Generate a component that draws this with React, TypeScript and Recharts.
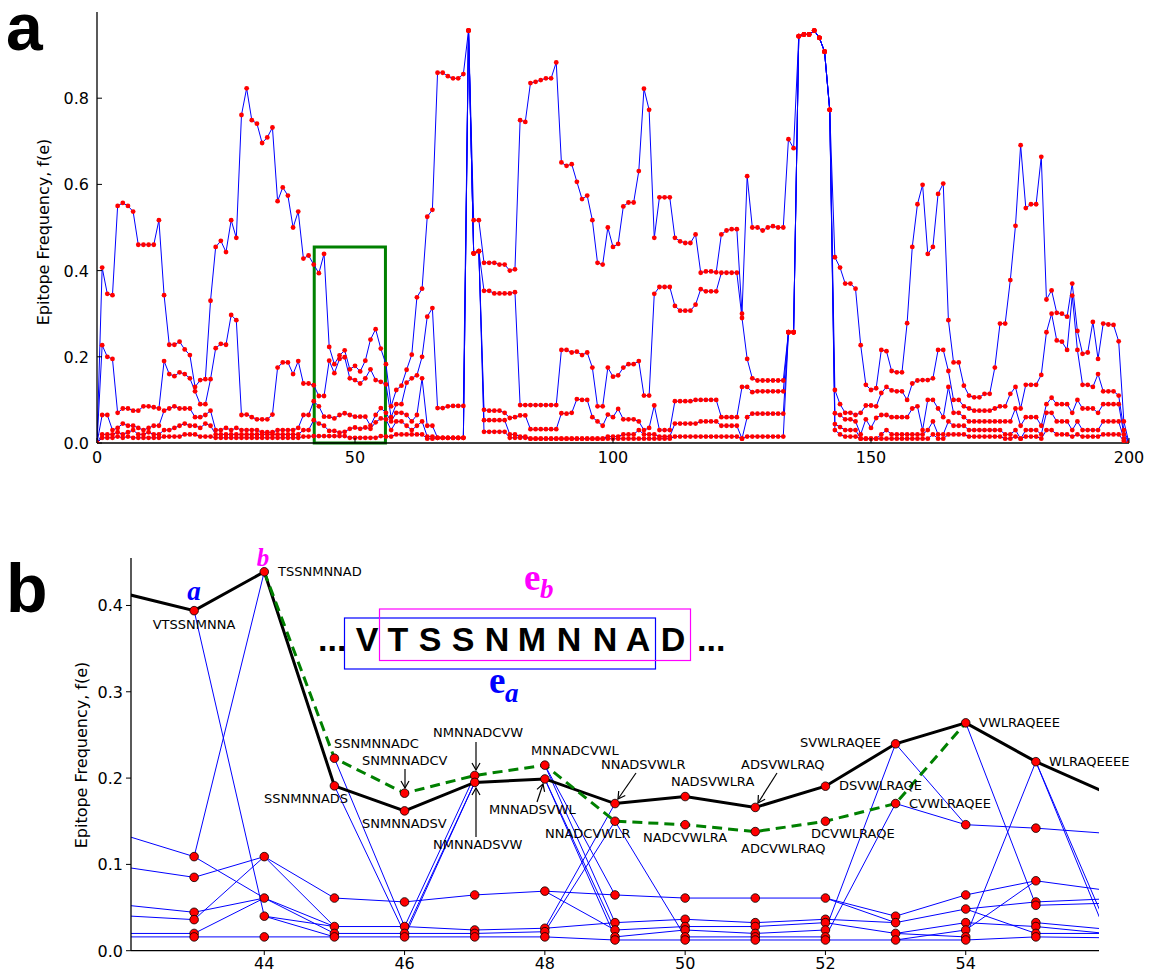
import React from 'react';
import { LineChart, Line, XAxis, YAxis, ComposedChart, ReferenceArea } from 'recharts';

// ---------- Panel a : positions 0..200 ----------
const positions: number[] = Array.from({ length: 201 }, (_, i) => i);

const seriesA1 = [
  0, 0.407, 0.346, 0.343, 0.55, 0.557, 0.55, 0.537, 0.46, 0.46,
  0.46, 0.46, 0.517, 0.343, 0.228, 0.228, 0.235, 0.217, 0.204, 0.13,
  0.146, 0.148, 0.33, 0.455, 0.469, 0.443, 0.517, 0.476, 0.761, 0.823,
  0.749, 0.741, 0.696, 0.709, 0.732, 0.561, 0.593, 0.574, 0.5, 0.537,
  0.428, 0.435, 0.414, 0.394, 0.439, 0.223, 0.183, 0.203, 0.215, 0.171,
  0.179, 0.166, 0.191, 0.24, 0.264, 0.219, 0.183, 0.085, 0.123, 0.133,
  0.17, 0.205, 0.338, 0.358, 0.525, 0.541, 0.859, 0.859, 0.851, 0.846,
  0.846, 0.856, 0.957, 0.517, 0.517, 0.418, 0.418, 0.418, 0.414, 0.414,
  0.4, 0.403, 0.749, 0.745, 0.835, 0.838, 0.842, 0.846, 0.846, 0.883,
  0.651, 0.643, 0.647, 0.606, 0.566, 0.574, 0.517, 0.418, 0.414, 0.5,
  0.455, 0.462, 0.549, 0.558, 0.558, 0.631, 0.822, 0.773, 0.476, 0.57,
  0.57, 0.57, 0.476, 0.468, 0.464, 0.464, 0.484, 0.395, 0.398, 0.398,
  0.396, 0.484, 0.493, 0.496, 0.496, 0.3, 0.619, 0.5, 0.5, 0.493,
  0.5, 0.503, 0.5, 0.5, 0.705, 0.684, 0.944, 0.948, 0.948, 0.957,
  0.94, 0.908, 0.773, 0.431, 0.407, 0.37, 0.37, 0.358, 0.227, 0.135,
  0.123, 0.127, 0.216, 0.213, 0.167, 0.164, 0.164, 0.278, 0.455, 0.554,
  0.599, 0.439, 0.455, 0.578, 0.602, 0.285, 0.187, 0.187, 0.133, 0.11,
  0.106, 0.106, 0.114, 0.114, 0.175, 0.277, 0.277, 0.378, 0.504, 0.691,
  0.545, 0.554, 0.554, 0.664, 0.333, 0.354, 0.302, 0.3, 0.293, 0.37,
  0.26, 0.207, 0.21, 0.281, 0.195, 0.277, 0.275, 0.274, 0.236, 0.05,
  0,
];

const seriesA2 = [
  0, 0.227, 0.2, 0.195, 0.07, 0.08, 0.08, 0.075, 0.075, 0.085,
  0.085, 0.083, 0.08, 0.19, 0.16, 0.155, 0.164, 0.16, 0.15, 0.12,
  0.09, 0.09, 0.148, 0.22, 0.23, 0.228, 0.297, 0.285, 0.065, 0.066,
  0.06, 0.055, 0.055, 0.055, 0.066, 0.175, 0.187, 0.187, 0.16, 0.19,
  0.138, 0.138, 0.134, 0.109, 0.109, 0.191, 0.162, 0.195, 0.199, 0.15,
  0.146, 0.138, 0.15, 0.171, 0.146, 0.142, 0.136, 0.06, 0.09, 0.09,
  0.14, 0.15, 0.157, 0.2, 0.293, 0.313, 0.081, 0.081, 0.085, 0.086,
  0.086, 0.086, 0.957, 0.44, 0.445, 0.353, 0.353, 0.347, 0.347, 0.347,
  0.347, 0.35, 0.088, 0.088, 0.088, 0.088, 0.088, 0.088, 0.088, 0.088,
  0.216, 0.216, 0.21, 0.212, 0.204, 0.21, 0.175, 0.085, 0.085, 0.175,
  0.154, 0.157, 0.175, 0.183, 0.183, 0.19, 0.11, 0.11, 0.346, 0.362,
  0.362, 0.362, 0.318, 0.307, 0.307, 0.307, 0.321, 0.357, 0.352, 0.352,
  0.352, 0.395, 0.395, 0.395, 0.395, 0.29, 0.195, 0.15, 0.145, 0.145,
  0.145, 0.145, 0.145, 0.145, 0.257, 0.257, 0.944, 0.948, 0.948, 0.957,
  0.94, 0.908, 0.773, 0.123, 0.09, 0.07, 0.07, 0.065, 0.07, 0.087,
  0.087, 0.085, 0.116, 0.13, 0.122, 0.12, 0.12, 0.1, 0.138, 0.145,
  0.146, 0.146, 0.15, 0.216, 0.216, 0.167, 0.1, 0.1, 0.085, 0.08,
  0.075, 0.075, 0.075, 0.075, 0.08, 0.085, 0.085, 0.114, 0.13, 0.08,
  0.135, 0.135, 0.135, 0.158, 0.257, 0.3, 0.238, 0.235, 0.216, 0.342,
  0.216, 0.135, 0.135, 0.13, 0.16, 0.12, 0.12, 0.12, 0.11, 0.03,
  0,
];

const seriesA3 = [
  0, 0.065, 0.065, 0.03, 0.035, 0.045, 0.04, 0.04, 0.035, 0.03,
  0.035, 0.04, 0.04, 0.075, 0.08, 0.085, 0.08, 0.08, 0.08, 0.06,
  0.06, 0.065, 0.075, 0.03, 0.03, 0.035, 0.03, 0.035, 0.03, 0.03,
  0.03, 0.03, 0.025, 0.025, 0.025, 0.03, 0.03, 0.03, 0.03, 0.035,
  0.065, 0.065, 0.097, 0.085, 0.061, 0.061, 0.057, 0.065, 0.069, 0.065,
  0.061, 0.061, 0.061, 0.04, 0.065, 0.081, 0.07, 0.05, 0.07, 0.07,
  0.065, 0.05, 0.065, 0.15, 0.04, 0.04, 0.012, 0.012, 0.012, 0.012,
  0.012, 0.012, 0.957, 0.44, 0.445, 0.077, 0.075, 0.075, 0.075, 0.07,
  0.058, 0.06, 0.064, 0.064, 0.032, 0.032, 0.032, 0.032, 0.032, 0.032,
  0.069, 0.068, 0.07, 0.102, 0.1, 0.1, 0.06, 0.05, 0.04, 0.066,
  0.06, 0.079, 0.055, 0.055, 0.055, 0.05, 0.03, 0.035, 0.087, 0.03,
  0.03, 0.03, 0.097, 0.097, 0.097, 0.097, 0.1, 0.1, 0.1, 0.1,
  0.1, 0.06, 0.06, 0.06, 0.06, 0.13, 0.13, 0.118, 0.12, 0.12,
  0.12, 0.12, 0.12, 0.12, 0.257, 0.257, 0.944, 0.948, 0.948, 0.957,
  0.94, 0.908, 0.773, 0.069, 0.065, 0.055, 0.055, 0.05, 0.02, 0.055,
  0.035, 0.058, 0.065, 0.065, 0.06, 0.06, 0.06, 0.06, 0.08, 0.085,
  0.03, 0.1, 0.1, 0.08, 0.06, 0.13, 0.07, 0.07, 0.06, 0.05,
  0.05, 0.05, 0.05, 0.05, 0.05, 0.05, 0.05, 0.05, 0.08, 0.04,
  0.06, 0.06, 0.06, 0.04, 0.09, 0.105, 0.09, 0.09, 0.09, 0.07,
  0.1, 0.08, 0.08, 0.08, 0.07, 0.09, 0.09, 0.09, 0.09, 0.02,
  0,
];

const seriesA4 = [
  0, 0.02, 0.02, 0.02, 0.025, 0.02, 0.025, 0.03, 0.02, 0.02,
  0.025, 0.02, 0.02, 0.03, 0.03, 0.035, 0.04, 0.045, 0.04, 0.04,
  0.035, 0.045, 0.04, 0.02, 0.02, 0.02, 0.02, 0.02, 0.02, 0.02,
  0.02, 0.02, 0.02, 0.02, 0.02, 0.02, 0.02, 0.02, 0.02, 0.02,
  0.03, 0.03, 0.053, 0.045, 0.04, 0.028, 0.028, 0.024, 0.026, 0.033,
  0.036, 0.033, 0.036, 0.033, 0.048, 0.057, 0.055, 0.03, 0.05, 0.05,
  0.04, 0.03, 0.04, 0.05, 0.015, 0.015, 0.012, 0.012, 0.012, 0.012,
  0.012, 0.012, 0.957, 0.44, 0.445, 0.053, 0.053, 0.053, 0.053, 0.053,
  0.02, 0.02, 0.015, 0.015, 0.01, 0.01, 0.01, 0.01, 0.01, 0.01,
  0.01, 0.01, 0.01, 0.01, 0.01, 0.01, 0.01, 0.01, 0.01, 0.015,
  0.015, 0.015, 0.02, 0.02, 0.02, 0.03, 0.02, 0.02, 0.02, 0.015,
  0.015, 0.015, 0.045, 0.045, 0.045, 0.045, 0.045, 0.05, 0.05, 0.05,
  0.05, 0.04, 0.04, 0.04, 0.04, 0.01, 0.06, 0.068, 0.068, 0.068,
  0.068, 0.068, 0.068, 0.068, 0.257, 0.257, 0.944, 0.948, 0.948, 0.957,
  0.94, 0.908, 0.773, 0.044, 0.037, 0.03, 0.03, 0.03, 0.01, 0.01,
  0.01, 0.01, 0.02, 0.03, 0.02, 0.02, 0.02, 0.02, 0.02, 0.02,
  0.02, 0.03, 0.05, 0.02, 0.02, 0.05, 0.04, 0.04, 0.04, 0.03,
  0.03, 0.03, 0.03, 0.03, 0.03, 0.03, 0.02, 0.02, 0.03, 0.01,
  0.03, 0.03, 0.03, 0.02, 0.07, 0.07, 0.05, 0.05, 0.05, 0.03,
  0.05, 0.03, 0.03, 0.03, 0.03, 0.05, 0.05, 0.05, 0.05, 0.01,
  0,
];

const seriesA5 = [
  0, 0.012, 0.012, 0.012, 0.015, 0.012, 0.015, 0.012, 0.012, 0.012,
  0.012, 0.012, 0.012, 0.015, 0.015, 0.015, 0.015, 0.02, 0.02, 0.02,
  0.015, 0.015, 0.015, 0.012, 0.012, 0.012, 0.012, 0.012, 0.012, 0.012,
  0.012, 0.012, 0.012, 0.012, 0.012, 0.012, 0.012, 0.012, 0.012, 0.012,
  0.015, 0.015, 0.016, 0.016, 0.016, 0.016, 0.016, 0.016, 0.016, 0.012,
  0.012, 0.012, 0.012, 0.012, 0.012, 0.016, 0.015, 0.015, 0.02, 0.02,
  0.02, 0.02, 0.02, 0.02, 0.01, 0.01, 0.012, 0.012, 0.012, 0.012,
  0.012, 0.012, 0.957, 0.44, 0.445, 0.026, 0.026, 0.026, 0.026, 0.026,
  0.012, 0.012, 0.012, 0.012, 0.01, 0.01, 0.01, 0.01, 0.01, 0.01,
  0.01, 0.01, 0.01, 0.01, 0.01, 0.01, 0.01, 0.01, 0.01, 0.01,
  0.01, 0.01, 0.01, 0.01, 0.01, 0.01, 0.01, 0.01, 0.01, 0.01,
  0.01, 0.01, 0.015, 0.015, 0.015, 0.015, 0.015, 0.015, 0.015, 0.015,
  0.015, 0.015, 0.015, 0.015, 0.015, 0.01, 0.015, 0.015, 0.015, 0.015,
  0.015, 0.015, 0.015, 0.015, 0.257, 0.257, 0.944, 0.948, 0.948, 0.957,
  0.94, 0.908, 0.773, 0.03, 0.02, 0.015, 0.015, 0.015, 0.01, 0.01,
  0.01, 0.01, 0.01, 0.01, 0.01, 0.01, 0.01, 0.01, 0.01, 0.01,
  0.01, 0.01, 0.02, 0.01, 0.01, 0.02, 0.02, 0.02, 0.02, 0.015,
  0.015, 0.015, 0.015, 0.015, 0.015, 0.015, 0.01, 0.01, 0.015, 0.01,
  0.015, 0.015, 0.015, 0.01, 0.03, 0.03, 0.02, 0.02, 0.02, 0.015,
  0.02, 0.015, 0.015, 0.015, 0.015, 0.02, 0.02, 0.02, 0.02, 0.005,
  0,
];

const aTicksX = [0, 50, 100, 150, 200];
const aTicksY = [0, 0.2, 0.4, 0.6, 0.8];
const aKeys = ['a1', 'a2', 'a3', 'a4', 'a5'];
const panelAData = positions.map((x, i) => ({
  x,
  a1: seriesA1[i],
  a2: seriesA2[i],
  a3: seriesA3[i],
  a4: seriesA4[i],
  a5: seriesA5[i],
}));

// ---------- Panel b : positions 42..56 ----------
const bBlackX = [42, 43, 44, 45, 46, 47, 48, 49, 50, 51, 52, 53, 54, 55, 56];
const bBlackY = [0.414, 0.394, 0.439, 0.191, 0.162, 0.195, 0.199, 0.1705, 0.1786, 0.166, 0.1906, 0.2397, 0.264, 0.219, 0.183];
const bGreenX = [44, 45, 46, 47, 48, 49, 50, 51, 52, 53, 54];
const bGreenY = [0.439, 0.223, 0.1825, 0.203, 0.215, 0.15, 0.146, 0.138, 0.15, 0.1705, 0.264];

const bNodes: [number, number[]][] = [
  [43, [0.394, 0.109, 0.085, 0.0445, 0.036, 0.02, 0.016]],
  [44, [0.439, 0.109, 0.061, 0.04, 0.016]],
  [45, [0.223, 0.191, 0.061, 0.028, 0.02, 0.016]],
  [46, [0.1825, 0.162, 0.0565, 0.028, 0.02, 0.016]],
  [47, [0.203, 0.195, 0.0646, 0.024, 0.02, 0.016]],
  [48, [0.215, 0.199, 0.069, 0.026, 0.022, 0.016]],
  [49, [0.1705, 0.15, 0.0646, 0.0325, 0.024, 0.016, 0.0124]],
  [50, [0.1786, 0.146, 0.061, 0.0364, 0.028, 0.024, 0.016, 0.0124]],
  [51, [0.166, 0.138, 0.061, 0.0325, 0.028, 0.02, 0.016, 0.0124]],
  [52, [0.1906, 0.15, 0.061, 0.0364, 0.0325, 0.024, 0.016, 0.0124]],
  [53, [0.2397, 0.1705, 0.04, 0.0325, 0.02, 0.0124]],
  [54, [0.264, 0.146, 0.0646, 0.0483, 0.0325, 0.024, 0.016, 0.0124]],
  [55, [0.219, 0.142, 0.081, 0.0565, 0.0526, 0.0325, 0.028, 0.02, 0.016]],
];

// [position, value at position, value at position + 1]
const bEdges: [number, number, number][] = [
  [42, 0.134, 0.109], [42, 0.097, 0.085], [42, 0.053, 0.0445], [42, 0.0405, 0.036], [42, 0.02, 0.02], [42, 0.016, 0.016],
  [43, 0.394, 0.04], [43, 0.109, 0.439], [43, 0.109, 0.061], [43, 0.085, 0.109], [43, 0.0445, 0.061], [43, 0.036, 0.109], [43, 0.02, 0.061], [43, 0.016, 0.016],
  [44, 0.109, 0.061], [44, 0.109, 0.028], [44, 0.061, 0.028], [44, 0.061, 0.02], [44, 0.04, 0.028], [44, 0.04, 0.016], [44, 0.016, 0.016],
  [45, 0.223, 0.028], [45, 0.191, 0.02], [45, 0.061, 0.0565], [45, 0.028, 0.028], [45, 0.02, 0.02], [45, 0.016, 0.016],
  [46, 0.028, 0.203], [46, 0.02, 0.195], [46, 0.016, 0.195], [46, 0.0565, 0.0646], [46, 0.028, 0.024], [46, 0.02, 0.02], [46, 0.016, 0.016],
  [47, 0.0646, 0.069], [47, 0.024, 0.026], [47, 0.02, 0.022], [47, 0.016, 0.016],
  [48, 0.215, 0.0325], [48, 0.215, 0.0646], [48, 0.199, 0.024], [48, 0.199, 0.016], [48, 0.069, 0.0646], [48, 0.069, 0.024], [48, 0.026, 0.1705], [48, 0.022, 0.15], [48, 0.016, 0.0124], [48, 0.026, 0.0325],
  [49, 0.15, 0.016], [49, 0.0646, 0.061], [49, 0.0325, 0.0364], [49, 0.024, 0.028], [49, 0.016, 0.024], [49, 0.0124, 0.0124],
  [50, 0.061, 0.061], [50, 0.0364, 0.0325], [50, 0.028, 0.028], [50, 0.024, 0.02], [50, 0.016, 0.016], [50, 0.0124, 0.0124],
  [51, 0.061, 0.061], [51, 0.0325, 0.0364], [51, 0.028, 0.0325], [51, 0.02, 0.024], [51, 0.016, 0.016], [51, 0.0124, 0.0124],
  [52, 0.024, 0.2397], [52, 0.016, 0.1705], [52, 0.061, 0.04], [52, 0.061, 0.0325], [52, 0.0364, 0.0325], [52, 0.0325, 0.02], [52, 0.0124, 0.0124],
  [53, 0.2397, 0.146], [53, 0.1705, 0.146], [53, 0.04, 0.0646], [53, 0.0325, 0.0483], [53, 0.02, 0.0325], [53, 0.0124, 0.024], [53, 0.0124, 0.0124], [53, 0.02, 0.016],
  [54, 0.264, 0.0526], [54, 0.016, 0.219], [54, 0.146, 0.142], [54, 0.0646, 0.081], [54, 0.0483, 0.0565], [54, 0.0325, 0.028], [54, 0.024, 0.081], [54, 0.0124, 0.016], [54, 0.0483, 0.02],
  [55, 0.219, 0.02], [55, 0.219, 0.03], [55, 0.142, 0.136], [55, 0.081, 0.07], [55, 0.0565, 0.06], [55, 0.0526, 0.055], [55, 0.0325, 0.025], [55, 0.028, 0.02], [55, 0.02, 0.02], [55, 0.016, 0.015],
];

const bTicksX = [44, 46, 48, 50, 52, 54];
const bTicksY = [0, 0.1, 0.2, 0.3, 0.4];

const blackData = bBlackX.map((x, i) => ({ x, y: bBlackY[i] }));
const greenData = bGreenX.map((x, i) => ({ x, y: bGreenY[i] }));
const nodeData = bNodes.flatMap(([x, ys]) => ys.map((y) => ({ x, y })));

// epitope labels: text, x, baseline y (page px), anchor
const epitopeLabels: [string, number, number, string][] = [
  ['TSSNMNNAD', 278, 576, 'start'],
  ['VTSSNMNNA', 194, 629, 'middle'],
  ['SSNMNNADC', 334, 748, 'start'],
  ['SNMNNADCV', 362, 765, 'start'],
  ['SSNMNNADS', 264, 803, 'start'],
  ['SNMNNADSV', 362, 828, 'start'],
  ['NMNNADCVW', 433, 737, 'start'],
  ['NMNNADSVW', 433, 849, 'start'],
  ['MNNADCVWL', 531, 755, 'start'],
  ['MNNADSVWL', 489, 814, 'start'],
  ['NNADSVWLR', 601, 769, 'start'],
  ['NNADCVWLR', 545, 838, 'start'],
  ['NADSVWLRA', 671, 786, 'start'],
  ['NADCVWLRA', 643, 842, 'start'],
  ['ADSVWLRAQ', 741, 769, 'start'],
  ['ADCVWLRAQ', 741, 853, 'start'],
  ['SVWLRAQEE', 800, 747, 'start'],
  ['DSVWLRAQE', 839, 790, 'start'],
  ['DCVWLRAQE', 811, 838, 'start'],
  ['CVWLRAQEE', 909, 808, 'start'],
  ['VWLRAQEEE', 979, 727, 'start'],
  ['WLRAQEEEE', 1049, 766, 'start'],
];

const arrows: [number, number, number, number][] = [
  [405, 769, 405, 788],
  [476, 742, 476, 770],
  [476, 837, 476, 788],
  [537, 802, 543, 784],
  [636, 773, 618, 799],
  [777, 773, 758, 803],
];

const seqLetters = ['V', 'T', 'S', 'S', 'N', 'M', 'N', 'N', 'A', 'D'];
const seqCenters = [367, 398, 430, 463, 497, 532, 569, 605, 638, 673];

const FONT = 'DejaVu Sans, Verdana, sans-serif';

// ---------- tick renderers (panel-local px) ----------
const TickAX = (p: any) => (
  <g>
    <line x1={p.x} x2={p.x} y1={443} y2={438} stroke="#000" strokeWidth={1} />
    <text x={p.x} y={463} textAnchor="middle" fontSize={16} fontFamily={FONT} fill="#000">
      {p.payload.value}
    </text>
  </g>
);
const TickAY = (p: any) => (
  <g>
    <line x1={97} x2={102} y1={p.y} y2={p.y} stroke="#000" strokeWidth={1} />
    <text x={89} y={p.y + 6} textAnchor="end" fontSize={16} fontFamily={FONT} fill="#000">
      {Number(p.payload.value).toFixed(1)}
    </text>
  </g>
);
const TickBX = (p: any) => (
  <g>
    <line x1={p.x} x2={p.x} y1={410.7} y2={415} stroke="#000" strokeWidth={1} />
    <text x={p.x} y={429} textAnchor="middle" fontSize={16} fontFamily={FONT} fill="#000">
      {p.payload.value}
    </text>
  </g>
);
const TickBY = (p: any) => (
  <g>
    <line x1={126} x2={131} y1={p.y} y2={p.y} stroke="#000" strokeWidth={1} />
    <text x={123} y={p.y + 6} textAnchor="end" fontSize={16} fontFamily={FONT} fill="#000">
      {Number(p.payload.value).toFixed(1)}
    </text>
  </g>
);

export default function App() {
  return (
    <div style={{ position: 'absolute', left: 0, top: 0, width: 1151, height: 973, background: '#fff', overflow: 'hidden' }}>
      {/* Panel a */}
      <div style={{ position: 'absolute', left: 0, top: 0 }}>
        <LineChart width={1151} height={470} data={panelAData} margin={{ top: 12, right: 22, bottom: 0, left: 57 }}>
          <XAxis
            dataKey="x"
            type="number"
            domain={[0, 200]}
            allowDataOverflow
            ticks={aTicksX}
            interval={0}
            height={27}
            axisLine={{ stroke: '#000', strokeWidth: 1.3 }}
            tickLine={false}
            tick={(p: any) => <TickAX {...p} />}
          />
          <YAxis
            type="number"
            domain={[0, 1]}
            allowDataOverflow
            ticks={aTicksY}
            interval={0}
            width={40}
            axisLine={{ stroke: '#000', strokeWidth: 1.3 }}
            tickLine={false}
            tick={(p: any) => <TickAY {...p} />}
          />
          {aKeys.map((k) => (
            <Line key={k} dataKey={k} type="linear" stroke="#0000ff" strokeWidth={1} dot={false} activeDot={false} isAnimationActive={false} />
          ))}
          {aKeys.map((k) => (
            <Line
              key={k + '_dots'}
              dataKey={k}
              type="linear"
              stroke="none"
              dot={{ r: 2.4, fill: '#ff0000', stroke: 'none' }}
              activeDot={false}
              isAnimationActive={false}
            />
          ))}
          <ReferenceArea x1={42.1} x2={55.9} y1={0} y2={0.455} fill="none" stroke="#008000" strokeWidth={3} ifOverflow="visible" />
        </LineChart>
      </div>

      {/* Panel b */}
      <div style={{ position: 'absolute', left: 0, top: 540 }}>
        <ComposedChart width={1151} height={433} margin={{ top: 18, right: 52, bottom: 0, left: 91 }}>
          <XAxis
            dataKey="x"
            type="number"
            domain={[42.1, 55.9]}
            allowDataOverflow
            ticks={bTicksX}
            interval={0}
            height={22.3}
            axisLine={{ stroke: '#000', strokeWidth: 1.3 }}
            tickLine={false}
            tick={(p: any) => <TickBX {...p} />}
          />
          <YAxis
            type="number"
            domain={[0, 0.455]}
            allowDataOverflow
            ticks={bTicksY}
            interval={0}
            width={40}
            axisLine={{ stroke: '#000', strokeWidth: 1.3 }}
            tickLine={false}
            tick={(p: any) => <TickBY {...p} />}
          />
          {bEdges.map(([x0, y0, y1], i) => (
            <Line
              key={'edge' + i}
              data={[
                { x: x0, y: y0 },
                { x: x0 + 1, y: y1 },
              ]}
              dataKey="y"
              type="linear"
              stroke="#0000ff"
              strokeWidth={1}
              dot={false}
              activeDot={false}
              isAnimationActive={false}
            />
          ))}
          <Line data={blackData} dataKey="y" type="linear" stroke="#000" strokeWidth={3} dot={false} activeDot={false} isAnimationActive={false} />
          <Line
            data={greenData}
            dataKey="y"
            type="linear"
            stroke="#008000"
            strokeWidth={3}
            strokeDasharray="10 6"
            dot={false}
            activeDot={false}
            isAnimationActive={false}
          />
          <Line
            data={nodeData}
            dataKey="y"
            type="linear"
            stroke="none"
            dot={{ r: 4.3, fill: '#ff0000', stroke: '#000', strokeWidth: 0.8 }}
            activeDot={false}
            isAnimationActive={false}
          />
        </ComposedChart>
      </div>

      {/* annotations */}
      <svg width={1151} height={973} style={{ position: 'absolute', left: 0, top: 0, pointerEvents: 'none' }}>
        <defs>
          <marker id="arrowHead" markerWidth="10" markerHeight="10" refX="8" refY="5" orient="auto" markerUnits="userSpaceOnUse">
            <path d="M1,1 L8,5 L1,9" fill="none" stroke="#000" strokeWidth={1.2} />
          </marker>
        </defs>
        <text x={6} y={50} fontSize={66} fontWeight="bold" fontFamily="Liberation Sans, Arial, sans-serif" fill="#000">a</text>
        <text x={6} y={612} fontSize={68} fontWeight="bold" fontFamily="Liberation Sans, Arial, sans-serif" fill="#000">b</text>

        <text transform="translate(49,232) rotate(-90)" textAnchor="middle" fontSize={16} fontFamily={FONT} fill="#000">
          Epitope Frequency, f(e)
        </text>
        <text transform="translate(87,755) rotate(-90)" textAnchor="middle" fontSize={16} fontFamily={FONT} fill="#000">
          Epitope Frequency, f(e)
        </text>

        {/* panel b: italic markers */}
        <text x={194} y={600} textAnchor="middle" fontSize={27} fontWeight="bold" fontStyle="italic" fontFamily="Liberation Serif, serif" fill="#0000ff">a</text>
        <text x={263} y={566} textAnchor="middle" fontSize={25} fontWeight="bold" fontStyle="italic" fontFamily="Liberation Serif, serif" fill="#ff00ff">b</text>

        {/* sequence with boxes */}
        <rect x={344.5} y={618} width={311} height={51} fill="none" stroke="#0000ff" strokeWidth={1.2} />
        <rect x={379.5} y={609} width={311} height={51.5} fill="none" stroke="#ff00ff" strokeWidth={1.2} />
        <text x={318} y={651} fontSize={34} fontWeight="bold" fontFamily="Liberation Sans, Arial, sans-serif" fill="#000">...</text>
        <text x={697} y={651} fontSize={34} fontWeight="bold" fontFamily="Liberation Sans, Arial, sans-serif" fill="#000">...</text>
        {seqLetters.map((l, i) => (
          <text key={'seq' + i} x={seqCenters[i]} y={651} textAnchor="middle" fontSize={34} fontWeight="bold" fontFamily="Liberation Sans, Arial, sans-serif" fill="#000">
            {l}
          </text>
        ))}
        <text x={524} y={590} fontSize={37} fontWeight="bold" fontFamily="Liberation Serif, serif" fill="#ff00ff">e</text>
        <text x={540} y={598} fontSize={27} fontWeight="bold" fontStyle="italic" fontFamily="Liberation Serif, serif" fill="#ff00ff">b</text>
        <text x={489} y={693} fontSize={37} fontWeight="bold" fontFamily="Liberation Serif, serif" fill="#0000ff">e</text>
        <text x={505} y={702} fontSize={27} fontWeight="bold" fontStyle="italic" fontFamily="Liberation Serif, serif" fill="#0000ff">a</text>

        {epitopeLabels.map(([t, x, y, anchor]) => (
          <text key={t} x={x} y={y} textAnchor={anchor as any} fontSize={13} fontFamily={FONT} fill="#000">
            {t}
          </text>
        ))}
        {arrows.map(([x1, y1, x2, y2], i) => (
          <line key={'arr' + i} x1={x1} y1={y1} x2={x2} y2={y2} stroke="#000" strokeWidth={1.2} markerEnd="url(#arrowHead)" />
        ))}
      </svg>
    </div>
  );
}
